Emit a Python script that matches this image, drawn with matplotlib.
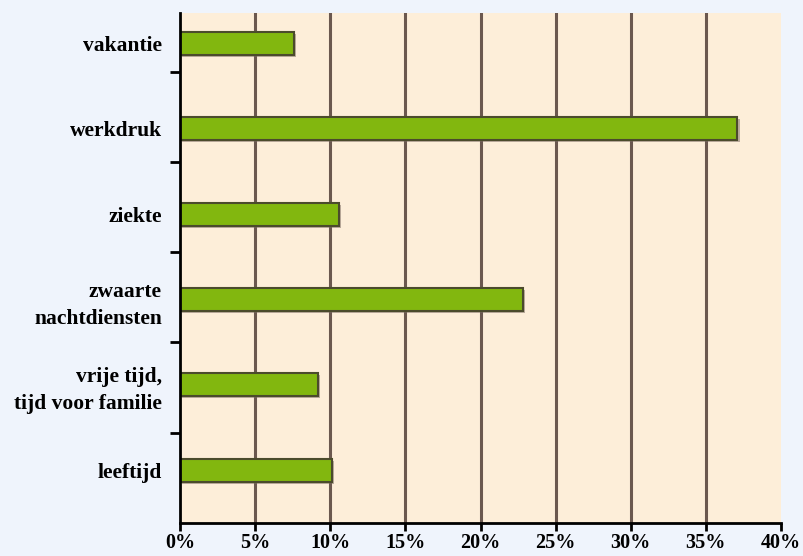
import numpy as np
import matplotlib
matplotlib.use('Agg')
import matplotlib.pyplot as plt
import matplotlib.patheffects as pe

# data, bottom to top
labels = ['leeftijd', 'vrije tijd,\ntijd voor familie', 'zwaarte\nnachtdiensten',
          'ziekte', 'werkdruk', 'vakantie']
values = [10.1, 9.2, 22.8, 10.6, 37.1, 7.6]
xticks = [0, 5, 10, 15, 20, 25, 30, 35, 40]

plt.rcParams['font.family'] = ['Liberation Serif', 'DejaVu Serif']
plt.rcParams['font.weight'] = 'bold'

fig = plt.figure(figsize=(8.04, 5.56), dpi=100, facecolor='#eff4fc')
ax = fig.add_axes([180/804, 33/556, 601/804, 510/556])
ax.set_facecolor('#fdeed9')

pos = np.arange(len(labels))
bars = ax.barh(pos, values, height=0.27, color='#82b70f', edgecolor='#4b4b2c',
               linewidth=1.5, zorder=3)
for b in bars:
    b.set_path_effects([pe.SimplePatchShadow(offset=(1.5, -1.5), shadow_rgbFace='#7a6a60', alpha=0.5),
                        pe.Normal()])

ax.set_xlim(0, 40)
ax.set_ylim(-0.621, 5.357)
ax.set_xticks(xticks)
ax.set_xticklabels([f'{t}%' for t in xticks], fontsize=14.5, fontweight='bold')
ax.set_yticks(pos)
ax.set_yticklabels(labels, fontsize=15.5, fontweight='bold', linespacing=1.45,
                   multialignment='right')
ax.set_yticks(-0.621 + 1.058 * np.arange(1, 6), minor=True)

ax.tick_params(axis='y', which='major', length=0, pad=13)
ax.tick_params(axis='y', which='minor', length=7, width=2, color='black')
ax.tick_params(axis='x', length=6, width=2, color='black', pad=1.5)

for xv in xticks[1:-1]:
    ax.axvline(xv, color='#6b584f', linewidth=2.2, zorder=1)

for s in ['top', 'right']:
    ax.spines[s].set_visible(False)
for s in ['left', 'bottom']:
    ax.spines[s].set_linewidth(2)
    ax.spines[s].set_color('black')
    ax.spines[s].set_zorder(4)

fig.savefig('out.png', dpi=100, facecolor=fig.get_facecolor())
